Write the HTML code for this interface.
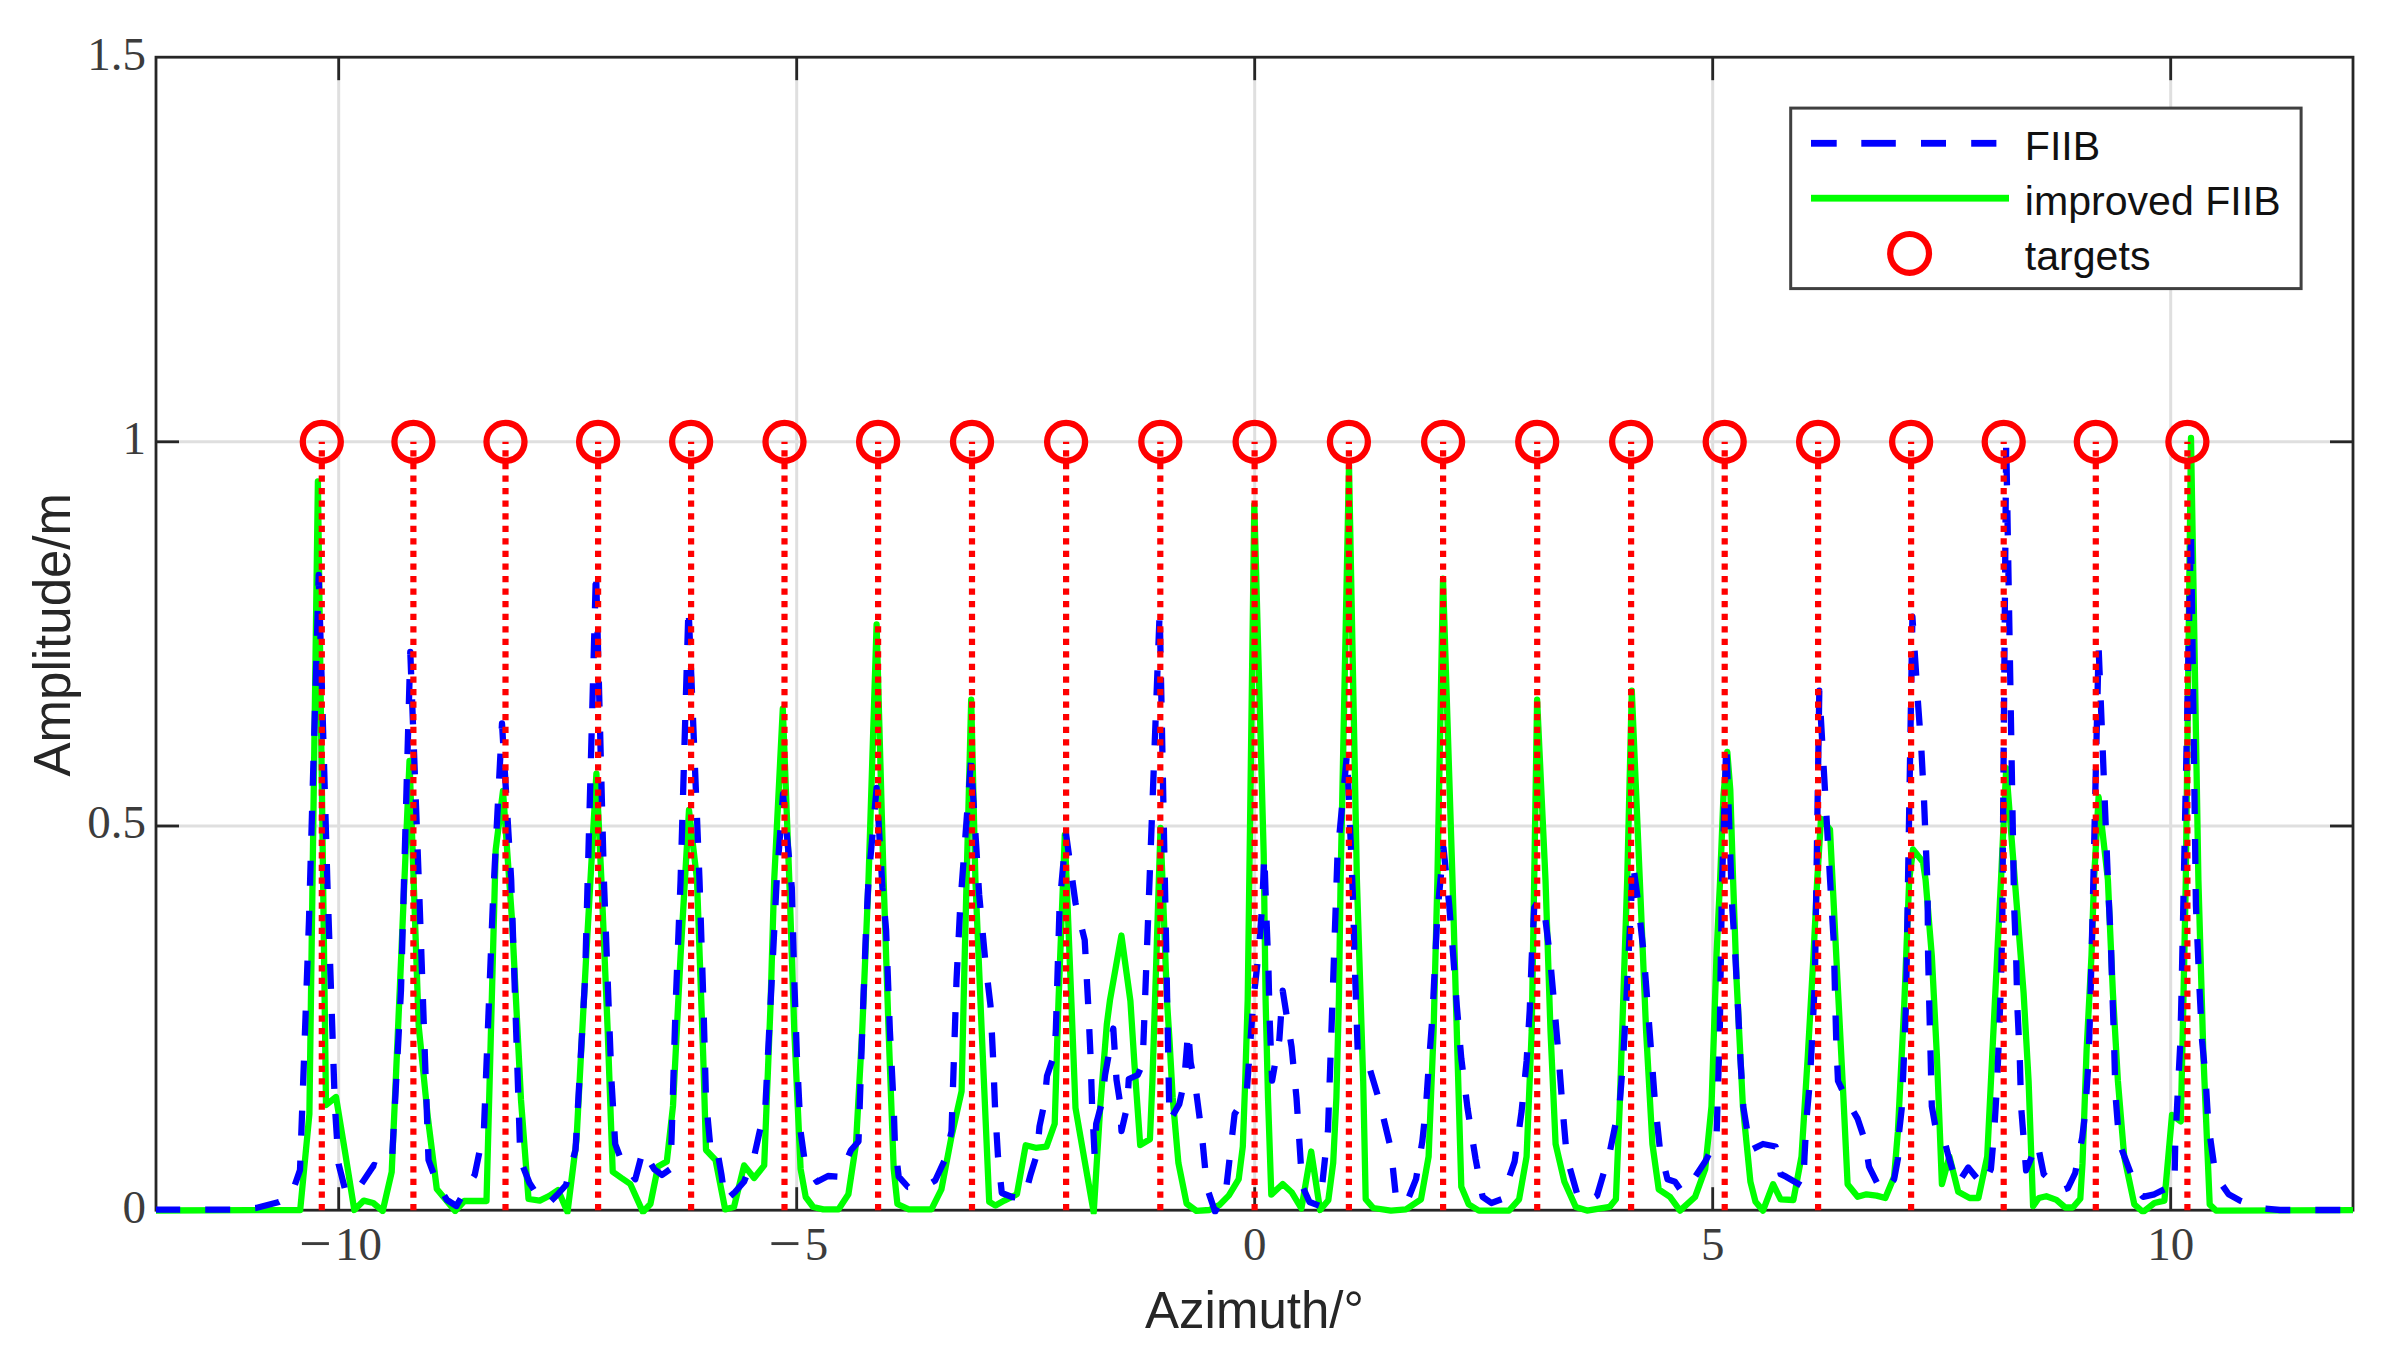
<!DOCTYPE html>
<html lang="en"><head><meta charset="utf-8"><title>Azimuth amplitude: FIIB vs improved FIIB</title>
<style>html,body{margin:0;padding:0;background:#fff;}body{width:2386px;height:1357px;overflow:hidden;}svg{display:block;}.tk{font-family:"Liberation Serif","DejaVu Serif",serif;font-size:47px;fill:#3c3c3c;}.lb{font-family:"Liberation Sans","DejaVu Sans",sans-serif;font-size:51px;fill:#262626;}.lg{font-family:"Liberation Sans","DejaVu Sans",sans-serif;font-size:41.1px;fill:#111111;}</style></head><body>
<svg width="2386" height="1357" viewBox="0 0 2386 1357">
<rect x="0" y="0" width="2386" height="1357" fill="#ffffff"/>
<defs><clipPath id="ax"><rect x="156.0" y="27.2" width="2197.0" height="1187.0"/></clipPath></defs>
<g stroke="#dfdfdf" stroke-width="3" fill="none"><line x1="338.7" y1="57.2" x2="338.7" y2="1210.2"/><line x1="796.7" y1="57.2" x2="796.7" y2="1210.2"/><line x1="1254.7" y1="57.2" x2="1254.7" y2="1210.2"/><line x1="1712.7" y1="57.2" x2="1712.7" y2="1210.2"/><line x1="2170.7" y1="57.2" x2="2170.7" y2="1210.2"/><line x1="156.0" y1="826.0" x2="2353.0" y2="826.0"/><line x1="156.0" y1="441.8" x2="2353.0" y2="441.8"/></g>
<g stroke="#262626" stroke-width="2.8" fill="none" stroke-linecap="butt">
<rect x="156.0" y="57.2" width="2197.0" height="1153.0"/>
<line x1="338.7" y1="1210.2" x2="338.7" y2="1187.2"/>
<line x1="338.7" y1="57.2" x2="338.7" y2="80.2"/>
<line x1="796.7" y1="1210.2" x2="796.7" y2="1187.2"/>
<line x1="796.7" y1="57.2" x2="796.7" y2="80.2"/>
<line x1="1254.7" y1="1210.2" x2="1254.7" y2="1187.2"/>
<line x1="1254.7" y1="57.2" x2="1254.7" y2="80.2"/>
<line x1="1712.7" y1="1210.2" x2="1712.7" y2="1187.2"/>
<line x1="1712.7" y1="57.2" x2="1712.7" y2="80.2"/>
<line x1="2170.7" y1="1210.2" x2="2170.7" y2="1187.2"/>
<line x1="2170.7" y1="57.2" x2="2170.7" y2="80.2"/>
<line x1="156.0" y1="826.0" x2="179.0" y2="826.0"/>
<line x1="2353.0" y1="826.0" x2="2330.0" y2="826.0"/>
<line x1="156.0" y1="441.8" x2="179.0" y2="441.8"/>
<line x1="2353.0" y1="441.8" x2="2330.0" y2="441.8"/>
</g>
<g clip-path="url(#ax)" fill="none" stroke-linejoin="round">
<path d="M155.2,1210.5 L300.2,1210.0 L309.4,1114.0 L317.9,481.4 L326.0,1105.0 L336.0,1097.0 L345.2,1153.0 L354.3,1210.0 L363.8,1200.6 L373.2,1203.0 L382.7,1211.0 L391.7,1172.0 L400.8,966.0 L409.5,761.0 L418.7,1026.0 L427.9,1118.0 L436.8,1189.0 L446.0,1200.0 L455.1,1211.0 L464.3,1201.0 L473.5,1201.0 L486.5,1201.0 L495.7,850.0 L503.0,791.0 L512.0,920.0 L521.0,1100.0 L528.5,1199.0 L539.8,1200.6 L549.0,1196.0 L558.0,1190.0 L567.5,1212.0 L576.5,1140.0 L586.0,960.0 L596.4,773.7 L601.4,880.0 L607.7,1031.0 L612.7,1171.7 L621.5,1178.0 L630.3,1184.0 L642.9,1212.0 L650.4,1204.0 L658.0,1166.6 L666.8,1161.6 L673.0,1106.0 L680.6,955.0 L689.0,810.0 L697.0,880.0 L703.2,1056.0 L706.0,1150.0 L715.5,1160.0 L725.2,1209.4 L734.0,1207.0 L744.1,1165.4 L754.1,1178.0 L764.2,1165.4 L770.5,1005.7 L774.2,880.0 L782.8,708.7 L789.3,880.0 L794.3,1031.0 L800.6,1169.0 L805.7,1197.0 L813.2,1207.0 L823.3,1209.4 L838.4,1209.4 L848.4,1194.3 L856.0,1144.0 L862.2,1031.0 L868.5,880.0 L876.6,624.5 L883.6,880.0 L888.6,1031.0 L893.7,1169.0 L897.4,1204.0 L908.8,1209.4 L931.4,1209.4 L941.4,1189.3 L951.5,1136.5 L961.6,1091.2 L964.1,980.6 L966.6,880.0 L971.2,699.6 L975.4,880.0 L981.7,1031.0 L989.2,1201.8 L995.5,1205.6 L1004.3,1200.6 L1016.9,1194.3 L1025.7,1145.3 L1035.7,1147.8 L1046.5,1146.6 L1054.7,1123.8 L1058.5,1001.0 L1064.8,835.0 L1071.3,1000.0 L1075.5,1108.0 L1084.5,1160.0 L1093.7,1212.5 L1100.3,1105.9 L1106.8,1024.4 L1110.0,1000.0 L1121.4,935.5 L1130.4,1001.0 L1134.5,1065.0 L1140.2,1145.0 L1149.9,1139.3 L1152.4,1081.4 L1155.0,1001.0 L1160.5,828.0 L1167.0,1001.0 L1169.5,1040.0 L1172.7,1097.7 L1178.4,1162.9 L1186.6,1203.6 L1196.4,1210.9 L1209.4,1210.0 L1219.2,1205.2 L1228.9,1195.4 L1238.7,1179.2 L1242.8,1146.6 L1245.2,1081.4 L1247.7,1000.0 L1254.3,504.7 L1263.7,854.0 L1265.6,1000.0 L1268.0,1097.7 L1271.3,1194.6 L1282.7,1184.0 L1291.6,1192.2 L1301.4,1208.5 L1311.2,1151.5 L1320.1,1210.0 L1328.3,1200.3 L1333.2,1162.9 L1336.4,1097.7 L1338.9,1000.0 L1340.6,880.0 L1349.0,465.0 L1356.9,880.0 L1363.2,1081.0 L1365.7,1199.3 L1373.3,1208.0 L1390.9,1210.6 L1406.0,1209.4 L1421.0,1199.3 L1428.6,1156.6 L1433.6,1031.0 L1437.4,880.0 L1443.0,578.7 L1452.5,880.0 L1457.5,1056.0 L1461.3,1186.8 L1468.8,1204.4 L1478.9,1210.6 L1509.0,1210.6 L1519.1,1199.3 L1526.6,1156.6 L1531.7,1031.0 L1534.2,880.0 L1537.1,699.6 L1545.5,880.0 L1550.5,1031.0 L1555.6,1144.0 L1564.4,1181.7 L1575.7,1206.9 L1587.0,1210.6 L1609.6,1206.9 L1615.9,1199.3 L1619.7,1106.3 L1624.7,955.4 L1627.2,880.0 L1631.8,690.6 L1639.8,880.0 L1646.1,1031.0 L1652.4,1144.0 L1658.7,1189.3 L1670.0,1196.8 L1680.0,1210.6 L1695.1,1196.8 L1705.2,1169.2 L1711.5,1106.3 L1716.5,955.4 L1720.1,880.0 L1723.5,795.0 L1727.3,752.0 L1730.3,790.0 L1733.1,880.0 L1736.6,980.6 L1742.9,1106.3 L1750.4,1181.7 L1755.5,1201.8 L1763.0,1210.6 L1773.1,1184.2 L1780.6,1199.3 L1793.4,1200.0 L1801.5,1156.6 L1807.8,1056.0 L1813.5,955.4 L1817.2,880.0 L1821.0,818.8 L1830.0,829.6 L1832.5,880.0 L1837.5,980.6 L1842.6,1081.0 L1847.6,1184.2 L1857.7,1196.8 L1866.5,1194.3 L1876.5,1195.6 L1885.3,1198.0 L1894.1,1176.7 L1897.9,1131.4 L1904.2,1005.7 L1909.2,880.0 L1913.0,849.5 L1923.0,862.0 L1925.6,880.0 L1931.8,955.4 L1936.9,1056.0 L1941.9,1184.2 L1949.4,1156.6 L1958.2,1191.8 L1969.6,1198.0 L1978.4,1198.0 L1987.2,1156.6 L1992.2,1056.0 L1997.2,955.4 L2001.0,880.0 L2006.2,768.2 L2014.8,880.0 L2023.6,993.0 L2028.6,1081.0 L2033.1,1206.2 L2038.8,1198.0 L2046.3,1196.2 L2056.4,1199.9 L2065.2,1207.5 L2072.8,1207.5 L2080.3,1198.7 L2082.5,1163.4 L2086.6,1050.0 L2091.5,955.4 L2094.0,880.0 L2098.6,797.0 L2107.9,880.0 L2112.9,993.0 L2117.9,1081.0 L2124.2,1156.6 L2134.3,1204.4 L2143.0,1212.0 L2154.4,1203.0 L2164.4,1200.6 L2172.0,1115.0 L2180.8,1121.4 L2183.3,1005.7 L2185.8,880.0 L2191.0,438.0 L2198.4,880.0 L2203.4,1056.0 L2209.7,1204.4 L2216.0,1210.6 L2360.0,1210.0" stroke="#00ff00" stroke-width="6.3"/>
<path d="M155.2,1209.7 L231.0,1209.7 L256.0,1208.0 L279.0,1202.0 L291.0,1196.0 L300.0,1170.0 L309.0,920.0 L318.7,575.0 L327.3,880.0 L334.9,1106.3 L338.6,1164.0 L345.7,1192.0 L355.0,1193.0 L364.0,1180.0 L374.0,1165.0 L383.0,1168.0 L392.0,1160.0 L401.0,990.0 L410.3,651.8 L419.5,900.0 L428.5,1160.0 L437.7,1185.0 L447.0,1200.0 L456.4,1206.0 L465.5,1190.0 L474.7,1175.0 L483.9,1130.0 L493.0,900.0 L502.0,723.4 L511.2,880.0 L520.4,1160.0 L529.5,1183.0 L538.7,1197.0 L547.9,1204.0 L557.0,1195.0 L566.0,1185.0 L575.5,1150.0 L585.0,980.0 L596.0,570.0 L603.9,880.0 L607.7,980.6 L611.5,1081.0 L615.2,1144.0 L622.8,1164.0 L635.3,1179.2 L642.9,1150.3 L654.2,1169.2 L662.0,1175.0 L670.5,1169.0 L671.8,1131.4 L675.6,1005.7 L680.6,880.0 L688.5,606.5 L699.5,880.0 L703.5,1005.7 L706.0,1100.0 L710.8,1151.6 L717.0,1149.0 L721.4,1174.2 L725.2,1200.6 L735.0,1192.0 L744.0,1181.7 L754.1,1156.6 L759.1,1134.0 L765.4,1106.3 L767.9,1056.0 L773.0,955.4 L776.7,880.0 L783.0,794.0 L791.8,887.5 L794.3,980.6 L796.9,1056.0 L800.6,1131.4 L804.4,1159.0 L810.5,1172.0 L817.0,1181.7 L828.0,1176.0 L839.6,1176.7 L850.9,1150.3 L858.5,1141.5 L859.7,1106.3 L862.2,1031.0 L866.0,930.0 L868.5,880.0 L876.6,788.0 L882.4,887.5 L886.1,930.0 L889.9,1031.0 L893.7,1106.3 L894.9,1144.0 L898.7,1176.7 L908.0,1187.0 L917.6,1186.8 L926.0,1186.0 L935.2,1180.5 L945.2,1159.0 L951.5,1131.4 L954.0,1056.0 L956.5,980.6 L960.3,905.0 L971.0,760.5 L979.2,895.0 L985.5,963.0 L990.5,1005.7 L993.0,1056.0 L995.0,1106.3 L998.0,1156.6 L1001.8,1193.0 L1012.0,1197.0 L1024.4,1198.0 L1030.7,1174.2 L1037.0,1154.0 L1039.5,1126.4 L1044.5,1102.5 L1047.0,1076.0 L1054.6,1053.5 L1055.9,1028.4 L1059.6,905.0 L1066.0,833.7 L1075.5,903.0 L1084.7,940.0 L1088.0,1001.0 L1090.5,1055.4 L1092.1,1105.9 L1094.6,1154.7 L1096.2,1123.8 L1101.9,1102.6 L1105.1,1074.9 L1109.2,1052.1 L1113.3,1028.5 L1116.5,1079.8 L1119.8,1101.0 L1121.5,1131.0 L1127.1,1106.7 L1128.8,1079.0 L1137.7,1075.0 L1142.6,1064.3 L1159.7,611.5 L1169.5,1121.0 L1179.3,1104.2 L1184.1,1082.2 L1188.2,1031.0 L1190.7,1062.7 L1195.5,1086.3 L1202.1,1136.8 L1206.9,1187.3 L1215.1,1211.7 L1225.7,1193.0 L1234.6,1114.0 L1246.5,1095.3 L1253.4,1000.0 L1258.6,953.0 L1262.3,904.0 L1264.3,855.0 L1266.4,917.0 L1268.4,967.0 L1269.6,1018.0 L1272.1,1080.6 L1279.4,1039.0 L1282.7,990.6 L1291.6,1047.0 L1296.5,1098.0 L1299.8,1148.0 L1302.2,1185.7 L1309.5,1202.0 L1320.0,1206.0 L1328.0,1130.0 L1337.5,855.0 L1347.0,754.0 L1353.2,902.6 L1354.4,955.4 L1356.2,1005.7 L1357.7,1051.0 L1368.2,1063.6 L1379.5,1101.3 L1390.9,1149.0 L1395.9,1196.8 L1406.0,1204.4 L1416.0,1179.2 L1422.3,1141.5 L1426.0,1106.3 L1428.6,1067.3 L1432.4,1017.0 L1434.9,965.5 L1437.4,912.7 L1443.5,847.6 L1449.2,905.0 L1453.2,955.4 L1456.8,1005.7 L1461.3,1058.5 L1467.6,1108.8 L1475.6,1159.0 L1482.6,1196.8 L1491.4,1203.0 L1501.5,1199.3 L1514.6,1161.6 L1521.6,1111.3 L1526.6,1061.0 L1529.7,1010.8 L1531.7,958.0 L1534.2,907.7 L1539.0,900.0 L1545.5,920.0 L1549.8,955.4 L1554.3,1005.7 L1558.8,1058.5 L1562.6,1108.8 L1566.9,1157.8 L1576.9,1193.0 L1585.7,1203.0 L1597.1,1195.6 L1609.6,1152.8 L1619.7,1103.8 L1623.4,1054.8 L1626.0,1007.0 L1628.5,955.4 L1631.0,906.4 L1632.8,862.0 L1638.5,905.0 L1643.6,953.0 L1647.3,1000.7 L1651.1,1051.0 L1654.9,1101.3 L1659.9,1149.0 L1667.5,1179.2 L1675.0,1181.7 L1682.0,1192.0 L1690.1,1184.2 L1705.2,1161.6 L1716.5,1139.0 L1718.2,1081.0 L1719.8,1031.0 L1720.5,980.6 L1721.3,930.0 L1721.8,890.0 L1726.3,743.0 L1732.1,905.0 L1735.3,955.4 L1737.9,1005.7 L1740.4,1058.5 L1743.4,1107.5 L1750.4,1150.3 L1763.0,1144.0 L1775.6,1146.5 L1780.6,1174.2 L1786.0,1176.7 L1803.4,1186.8 L1804.5,1156.6 L1806.5,1119.0 L1809.9,1081.0 L1812.4,1033.0 L1814.9,980.0 L1819.3,690.6 L1830.8,892.6 L1833.8,943.0 L1835.0,993.0 L1836.3,1043.4 L1838.0,1081.0 L1847.6,1101.3 L1857.7,1118.9 L1865.2,1141.5 L1869.0,1166.6 L1880.3,1189.3 L1887.0,1190.0 L1894.1,1179.2 L1897.9,1159.0 L1899.2,1131.4 L1901.7,1108.8 L1904.0,1056.0 L1906.0,1005.0 L1907.5,912.7 L1912.4,616.6 L1917.8,700.0 L1921.4,750.0 L1924.0,800.0 L1926.0,850.0 L1927.5,884.0 L1928.1,955.4 L1929.3,1005.7 L1930.6,1056.0 L1931.8,1106.3 L1936.2,1131.0 L1943.0,1135.0 L1948.7,1157.0 L1956.9,1185.0 L1968.2,1167.5 L1976.0,1177.0 L1983.3,1185.5 L1990.9,1169.2 L1994.2,1131.4 L1997.2,1081.0 L1999.2,1031.0 L2001.0,980.6 L2002.2,930.0 L2006.2,441.5 L2014.1,905.0 L2016.1,955.4 L2017.3,1005.7 L2019.8,1058.5 L2021.1,1106.3 L2026.1,1170.4 L2037.4,1142.8 L2043.7,1174.2 L2061.3,1190.5 L2068.0,1188.0 L2075.2,1173.0 L2082.2,1137.7 L2085.2,1112.6 L2088.5,1061.0 L2090.2,1009.5 L2091.5,956.7 L2092.8,905.0 L2098.6,647.3 L2108.4,892.6 L2110.9,943.0 L2112.4,993.0 L2114.1,1043.4 L2115.4,1093.7 L2119.2,1142.8 L2136.8,1189.3 L2143.0,1196.8 L2154.4,1194.3 L2174.5,1184.2 L2175.2,1145.3 L2177.7,1093.7 L2180.3,1043.4 L2181.5,994.4 L2191.0,530.0 L2195.9,905.0 L2199.6,990.6 L2202.1,1041.0 L2205.4,1076.0 L2208.4,1125.0 L2215.5,1175.5 L2228.6,1194.3 L2239.9,1200.6 L2260.0,1208.0 L2280.0,1210.0 L2360.0,1210.0" stroke="#0000ff" stroke-width="6.3" stroke-dasharray="25 25"/>
<path d="M321.8,1210.2 V441.8 M413.4,1210.2 V441.8 M505.5,1210.2 V441.8 M598.1,1210.2 V441.8 M691.1,1210.2 V441.8 M784.5,1210.2 V441.8 M878.1,1210.2 V441.8 M972.0,1210.2 V441.8 M1066.1,1210.2 V441.8 M1160.3,1210.2 V441.8 M1254.6,1210.2 V441.8 M1348.9,1210.2 V441.8 M1443.1,1210.2 V441.8 M1537.2,1210.2 V441.8 M1631.1,1210.2 V441.8 M1724.7,1210.2 V441.8 M1818.1,1210.2 V441.8 M1911.1,1210.2 V441.8 M2003.7,1210.2 V441.8 M2095.8,1210.2 V441.8 M2187.4,1210.2 V441.8 " stroke="#ff0000" stroke-width="6.2" stroke-dasharray="6.25 6.31"/>
</g>
<g fill="none" stroke="#ff0000" stroke-width="6.3"><circle cx="321.8" cy="441.8" r="19"/><circle cx="413.4" cy="441.8" r="19"/><circle cx="505.5" cy="441.8" r="19"/><circle cx="598.1" cy="441.8" r="19"/><circle cx="691.1" cy="441.8" r="19"/><circle cx="784.5" cy="441.8" r="19"/><circle cx="878.1" cy="441.8" r="19"/><circle cx="972.0" cy="441.8" r="19"/><circle cx="1066.1" cy="441.8" r="19"/><circle cx="1160.3" cy="441.8" r="19"/><circle cx="1254.6" cy="441.8" r="19"/><circle cx="1348.9" cy="441.8" r="19"/><circle cx="1443.1" cy="441.8" r="19"/><circle cx="1537.2" cy="441.8" r="19"/><circle cx="1631.1" cy="441.8" r="19"/><circle cx="1724.7" cy="441.8" r="19"/><circle cx="1818.1" cy="441.8" r="19"/><circle cx="1911.1" cy="441.8" r="19"/><circle cx="2003.7" cy="441.8" r="19"/><circle cx="2095.8" cy="441.8" r="19"/><circle cx="2187.4" cy="441.8" r="19"/></g>
<text class="tk" x="1254.7" y="1259.6" text-anchor="middle">0</text>
<text class="tk" x="1712.7" y="1259.6" text-anchor="middle">5</text>
<text class="tk" x="2170.7" y="1259.6" text-anchor="middle">10</text>
<text class="tk" x="298.9" y="1259.6"><tspan font-size="58" dy="3.6">−</tspan><tspan dy="-3.6" dx="3.5">10</tspan></text>
<text class="tk" x="768.5" y="1259.6"><tspan font-size="58" dy="3.6">−</tspan><tspan dy="-3.6" dx="3.5">5</tspan></text>
<text class="tk" x="146" y="1222.5" text-anchor="end">0</text>
<text class="tk" x="146" y="838.3" text-anchor="end">0.5</text>
<text class="tk" x="146" y="454.1" text-anchor="end">1</text>
<text class="tk" x="146" y="69.9" text-anchor="end">1.5</text>
<text class="lb" x="1254.5" y="1328" text-anchor="middle">Azimuth/°</text>
<text class="lb" transform="translate(69.5,634.7) rotate(-90)" text-anchor="middle">Amplitude/m</text>
<rect x="1790.7" y="108.1" width="510.4" height="180.5" fill="#ffffff" stroke="#404040" stroke-width="3"/>
<rect x="1811.0" y="139.9" width="25.7" height="6.8" fill="#0000ff"/>
<rect x="1861.3" y="139.9" width="34.5" height="6.8" fill="#0000ff"/>
<rect x="1921.0" y="139.9" width="25.0" height="6.8" fill="#0000ff"/>
<rect x="1971.2" y="139.9" width="25.2" height="6.8" fill="#0000ff"/>
<rect x="1811" y="194.8" width="198" height="6.8" fill="#00ff00"/>
<circle cx="1909.6" cy="253.4" r="19.4" fill="none" stroke="#ff0000" stroke-width="6.2"/>
<text class="lg" x="2024.8" y="160.4">FIIB</text>
<text class="lg" x="2024.8" y="215">improved FIIB</text>
<text class="lg" x="2024.8" y="269.8">targets</text>
</svg></body></html>
